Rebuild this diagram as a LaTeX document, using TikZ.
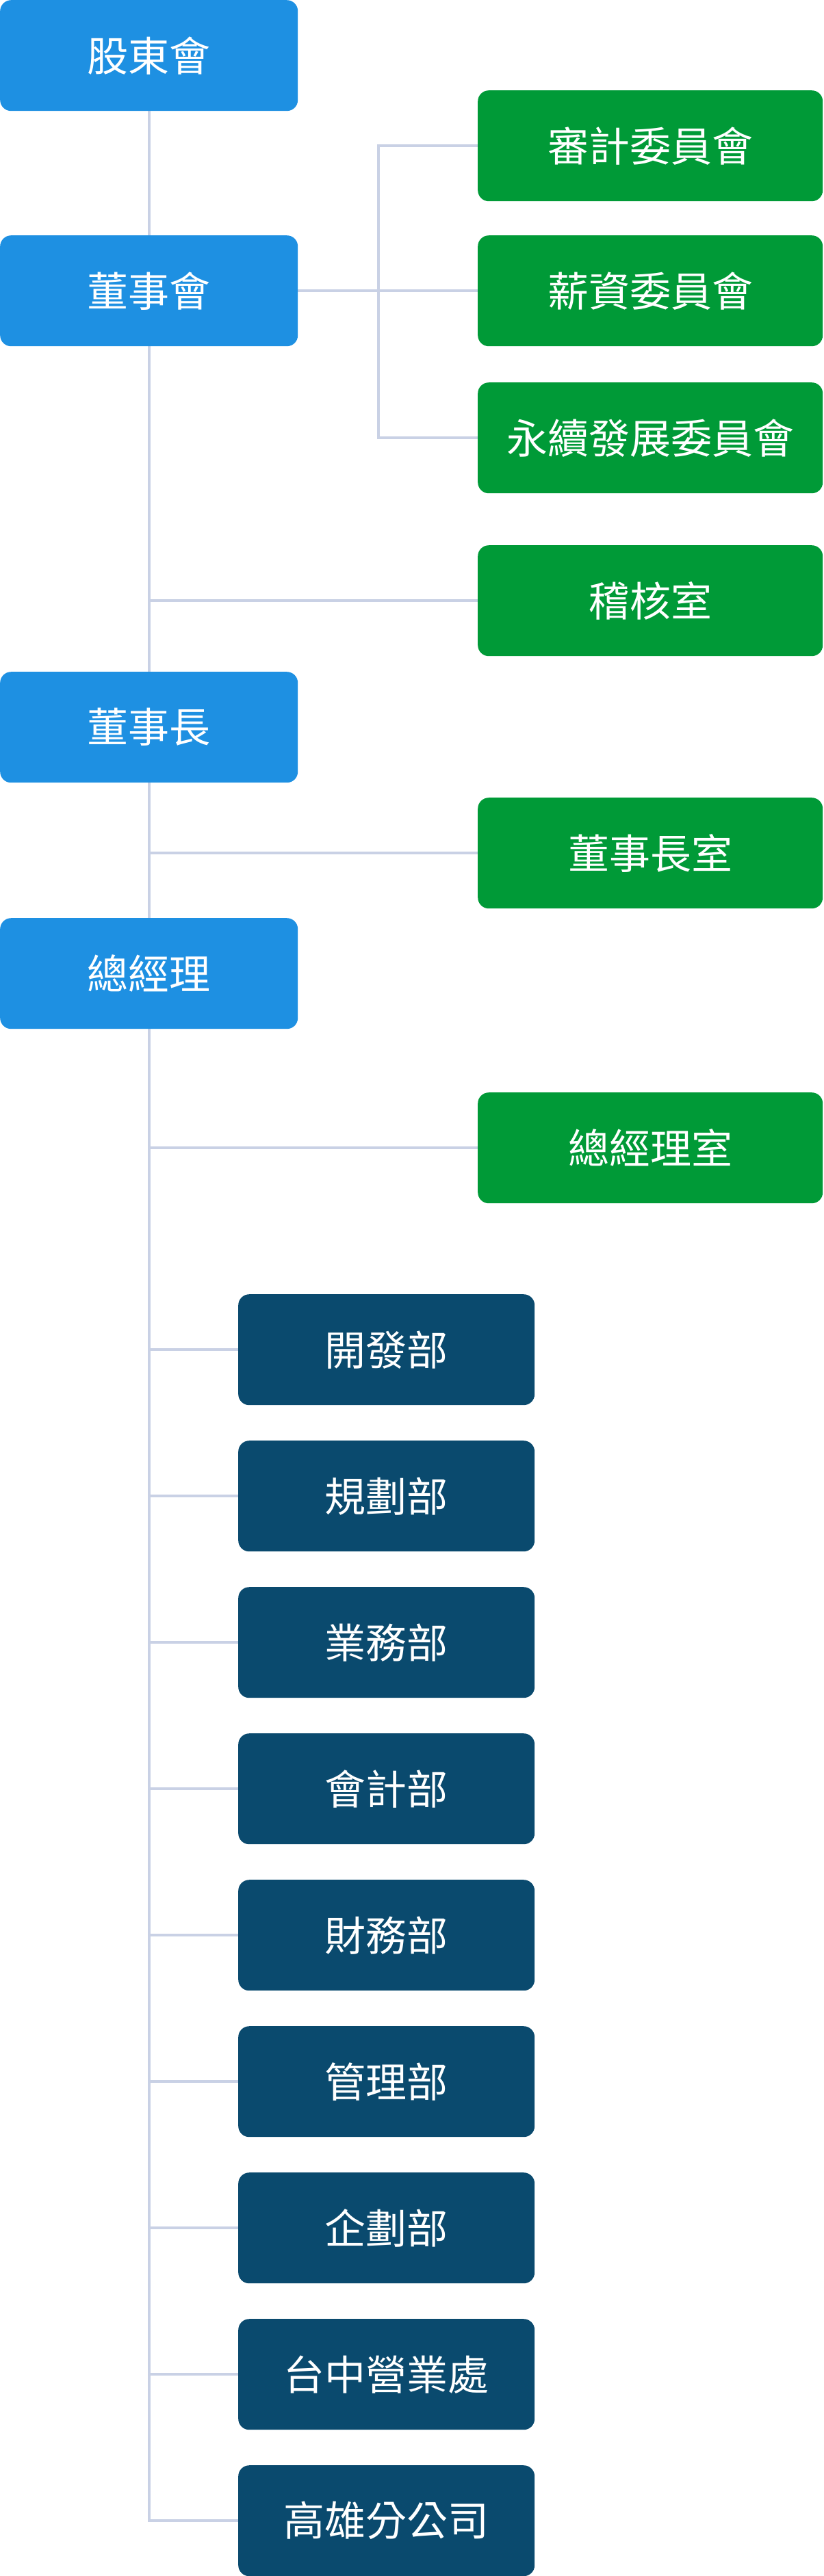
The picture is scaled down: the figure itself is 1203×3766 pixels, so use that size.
\documentclass[tikz,border=0pt]{standalone}
\usepackage{fontspec}
\usetikzlibrary{backgrounds}
\newfontfamily\cjk{Noto Sans CJK TC}
\definecolor{topblue}{HTML}{1E90E2}
\definecolor{gr}{HTML}{009A37}
\definecolor{navy}{HTML}{0A4A6E}
\definecolor{ln}{HTML}{C9D1E5}
\tikzset{
  box/.style={rounded corners=16pt, minimum height=162pt, inner sep=0pt, text=white,
     font=\cjk\fontsize{60}{72}\selectfont, anchor=north west},
  bluebox/.style={box, fill=topblue, minimum width=435pt},
  greenbox/.style={box, fill=gr, minimum width=504pt},
  navybox/.style={box, fill=navy, minimum width=433pt},
  conn/.style={draw=ln, line width=4pt}
}
\begin{document}
\begin{tikzpicture}[x=1pt,y=-1pt]
\useasboundingbox (0,0) rectangle (1203,3766);
\coordinate (spine) at (218,161);
\coordinate (br) at (553,424);
% blue nodes
\node[bluebox] (gd) at (0,0) {股東會};
\node[bluebox] (bd) at (0,344) {董事會};
\node[bluebox] (ch) at (0,982) {董事長};
\node[bluebox] (gm) at (0,1342) {總經理};
% green
\node[greenbox] (au) at (698,132) {審計委員會};
\node[greenbox] (pay) at (698,344) {薪資委員會};
\node[greenbox] (sus) at (698,559) {永續發展委員會};
\node[greenbox] (audit) at (698,797) {稽核室};
\node[greenbox] (cho) at (698,1166) {董事長室};
\node[greenbox] (gmo) at (698,1597) {總經理室};
% navy
\foreach \t [count=\i from 0] in {開發部,規劃部,業務部,會計部,財務部,管理部,企劃部,台中營業處,高雄分公司}{
  \node[navybox] (d\i) at (348,{1892+214*\i}) {\t};
}
\begin{scope}[on background layer]
\draw[conn] (gd.south -| spine) -- (spine |- d8.west) -- (d8.west);
\foreach \i in {0,...,7}{ \draw[conn] (spine |- d\i.west) -- (d\i.west); }
\draw[conn] (bd.east) -- (pay.west);
\draw[conn] (au.west) -- (br |- au.west) -- (br |- sus.west) -- (sus.west);
\draw[conn] (spine |- audit.west) -- (audit.west);
\draw[conn] (spine |- cho.west) -- (cho.west);
\draw[conn] (spine |- gmo.west) -- (gmo.west);
\end{scope}
\end{tikzpicture}
\end{document}
